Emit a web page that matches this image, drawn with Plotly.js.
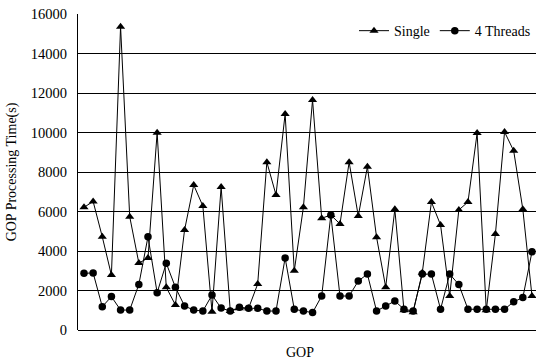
<!DOCTYPE html>
<html>
<head>
<meta charset="utf-8">
<script src="https://cdn.plot.ly/plotly-3.0.1.min.js"></script>
<style>html,body{margin:0;padding:0;background:#fff;}#chart{width:536px;height:363px;}</style>
</head>
<body>
<div id="chart"></div>
<script>
var gop = [1,2,3,4,5,6,7,8,9,10,11,12,13,14,15,16,17,18,19,20,21,22,23,24,25,26,27,28,29,30,31,32,33,34,35,36,37,38,39,40,41,42,43,44,45,46,47,48,49,50];
var single = [6210,6510,4720,2780,15360,5740,3390,3640,9990,2160,1270,5060,7340,6280,930,7240,960,1100,1100,2330,8500,6840,10940,3000,6220,11650,5660,5820,5370,8500,5770,8270,4700,2170,6110,1000,900,2900,6480,5320,1720,6080,6480,9970,1000,4860,10030,9070,6110,1720];
var threads4 = [2870,2890,1180,1690,1010,1010,2310,4720,1890,3380,2160,1215,1010,960,1770,1110,960,1150,1100,1100,960,960,3650,1050,960,880,1720,5820,1720,1720,2480,2830,960,1210,1470,1050,960,2830,2830,1050,2830,2300,1050,1050,1050,1050,1050,1430,1640,3960];
var yTicks = [0,2000,4000,6000,8000,10000,12000,14000,16000];
var seriesNames = ['Single', '4 Threads'];

var font = 'Liberation Serif, Times New Roman, serif';
var traces = [
  {x: gop, y: single, name: seriesNames[0], mode: 'lines+markers', type: 'scatter',
   line: {color: '#000', width: 1}, marker: {symbol: 'triangle-up', size: 8, color: '#000'}},
  {x: gop, y: threads4, name: seriesNames[1], mode: 'lines+markers', type: 'scatter',
   line: {color: '#000', width: 1}, marker: {symbol: 'circle', size: 7.5, color: '#000'}}
];
var layout = {
  width: 536, height: 363,
  margin: {l: 78, r: 0, t: 14, b: 33, pad: 0},
  paper_bgcolor: '#fff', plot_bgcolor: '#fff',
  font: {family: font, size: 14, color: '#000'},
  showlegend: true,
  legend: {orientation: 'h', x: 1, xanchor: 'right', y: 0.946, yanchor: 'middle',
           bgcolor: 'rgba(0,0,0,0)', font: {family: font, size: 14, color: '#000'},
           itemwidth: 30, tracegroupgap: 0},
  xaxis: {range: [0.344, 50.44], showgrid: false, zeroline: false, showticklabels: false,
          ticks: '', showline: false, fixedrange: true},
  yaxis: {range: [0, 16000], tickvals: yTicks, ticktext: yTicks.map(String),
          showgrid: true, gridcolor: '#000', gridwidth: 1, zeroline: true, zerolinecolor: '#000', zerolinewidth: 1,
          showline: true, linecolor: '#000', linewidth: 1, ticks: '', ticklabelstandoff: 7,
          tickfont: {family: font, size: 14.5, color: '#000'},
          title: {text: 'GOP Processing Time(s)', font: {family: font, size: 14, color: '#000'}, standoff: 10}},
  annotations: [
    {text: 'GOP', xref: 'paper', yref: 'paper', x: (300-78)/458, y: -0.0, yshift: -22, xanchor: 'center', yanchor: 'middle',
     showarrow: false, font: {family: font, size: 14, color: '#000'}}
  ]
};
Plotly.newPlot('chart', traces, layout, {displayModeBar: false, staticPlot: true});
</script>
</body>
</html>
